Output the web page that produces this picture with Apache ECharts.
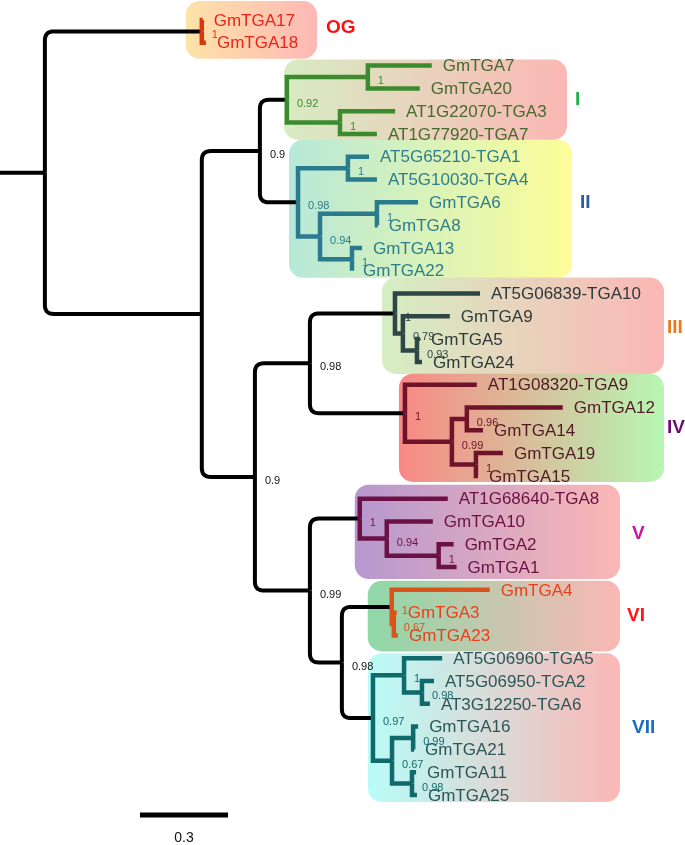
<!DOCTYPE html>
<html><head><meta charset="utf-8">
<script src="https://cdn.jsdelivr.net/npm/echarts@6/dist/echarts.min.js"></script>
<style>html,body{margin:0;padding:0;background:#fff}#c{width:685px;height:845px}</style>
</head><body><div id="c"></div><script>
// ---------- DATA ----------
// leaves, top to bottom (row index = position in this list)
const leafNames = ['GmTGA17','GmTGA18','GmTGA7','GmTGA20','AT1G22070-TGA3','AT1G77920-TGA7',
 'AT5G65210-TGA1','AT5G10030-TGA4','GmTGA6','GmTGA8','GmTGA13','GmTGA22',
 'AT5G06839-TGA10','GmTGA9','GmTGA5','GmTGA24','AT1G08320-TGA9','GmTGA12','GmTGA14','GmTGA19','GmTGA15',
 'AT1G68640-TGA8','GmTGA10','GmTGA2','GmTGA1','GmTGA4','GmTGA3','GmTGA23',
 'AT5G06960-TGA5','AT5G06950-TGA2','AT3G12250-TGA6','GmTGA16','GmTGA21','GmTGA11','GmTGA25'];

// tree edges: [node, parent, branch length]
const edges = [
 ['root', null, 0.153],
 ['OG','root',0.535], ['GmTGA17','OG',0.003], ['GmTGA18','OG',0.014],
 ['ingroup','root',0.535],
 ['I+II','ingroup',0.198],
 ['I','I+II',0.092],
 ['n7_20','I',0.276], ['GmTGA7','n7_20',0.218], ['GmTGA20','n7_20',0.177],
 ['nTGA3_7','I',0.181], ['AT1G22070-TGA3','nTGA3_7',0.188], ['AT1G77920-TGA7','nTGA3_7',0.126],
 ['II','I+II',0.130],
 ['n1_4','II',0.170], ['AT5G65210-TGA1','n1_4',0.072], ['AT5G10030-TGA4','n1_4',0.099],
 ['nIIb','II',0.075],
 ['n6_8','nIIb',0.194], ['GmTGA6','n6_8',0.140], ['GmTGA8','n6_8',0.003],
 ['n13_22','nIIb',0.109], ['GmTGA13','n13_22',0.034], ['GmTGA22','n13_22',0.0],
 ['lower','ingroup',0.181],
 ['III+IV','lower',0.1875],
 ['III','III+IV',0.290], ['AT5G06839-TGA10','III',0.290],
 ['n9_5_24','III',0.027], ['GmTGA9','n9_5_24',0.160],
 ['n5_24','n9_5_24',0.048], ['GmTGA5','n5_24',0.010], ['GmTGA24','n5_24',0.017],
 ['IV','III+IV',0.324], ['AT1G08320-TGA9','IV',0.245],
 ['n12_15','IV',0.160],
 ['n12_14','n12_15',0.051], ['GmTGA12','n12_14',0.327], ['GmTGA14','n12_14',0.055],
 ['n19_15','n12_15',0.082], ['GmTGA19','n19_15',0.092], ['GmTGA15','n19_15',0.007],
 ['V+VI+VII','lower',0.1875],
 ['V','V+VI+VII',0.170], ['AT1G68640-TGA8','V',0.300],
 ['n10_1','V',0.092], ['GmTGA10','n10_1',0.157],
 ['n2_1','n10_1',0.177], ['GmTGA2','n2_1',0.051], ['GmTGA1','n2_1',0.061],
 ['VI+VII','V+VI+VII',0.109],
 ['VI','VI+VII',0.170], ['GmTGA4','VI',0.334],
 ['n3_23','VI',0.007], ['GmTGA3','n3_23',0.010], ['GmTGA23','n3_23',0.014],
 ['VII','VI+VII',0.106],
 ['nAT','VII',0.106], ['AT5G06960-TGA5','nAT',0.130],
 ['n2_6','nAT',0.061], ['AT5G06950-TGA2','n2_6',0.041], ['AT3G12250-TGA6','n2_6',0.027],
 ['nGm','VII',0.065],
 ['n16_21','nGm',0.072], ['GmTGA16','n16_21',0.017], ['GmTGA21','n16_21',0.003],
 ['n11_25','nGm',0.068], ['GmTGA11','n11_25',0.014], ['GmTGA25','n11_25',0.017]
];

// support values: [node, value]
const support = [
 ['OG',1],['I+II',0.9],['I',0.92],['n7_20',1],['nTGA3_7',1],['II',0.98],['n1_4',1],['nIIb',0.94],['n6_8',1],['n13_22',1],
 ['III+IV',0.98],['lower',0.9],['III',1],['n9_5_24',0.79],['n5_24',0.93],['IV',1],['n12_14',0.96],['n12_15',0.99],['n19_15',1],
 ['V+VI+VII',0.99],['V',1],['n10_1',0.94],['n2_1',1],['VI+VII',0.98],['VI',1],['n3_23',0.67],
 ['VII',0.97],['nAT',1],['n2_6',0.98],['nGm',0.67],['n16_21',0.99],['n11_25',0.98]
];

// clade groups (clade root node) and tags
const cladeNames = ['OG','I','II','III','IV','V','VI','VII'];
const scaleBarValue = 0.3;

// ---------- STYLE ----------
// pad: [top px, bottom px, left offset px from clade node, right edge px]; tag: [gap px, dy px]
const cladeStyle = {
  OG: {branch:'#d8380e', text:'#e8251c', tag:'#ff0d0d', box:['#fde3a8','#fdb8b5'], pad:[19,16,-16,317], tagPos:[9,-2]},
  I:  {branch:'#3d8b2f', text:'#466b2c', tag:'#1fae4a', box:['#d7ecc3','#fbb7b5'], pad:[6,6,-3,567], tagPos:[8,0]},
  II: {branch:'#2a7b8e', text:'#2f7d8b', tag:'#2b5ca5', box:['#b7e8d8','#fdfd98'], pad:[17,7,-9,572], tagPos:[8,-6]},
  III:{branch:'#2f4646', text:'#2d3a3a', tag:'#e8791e', box:['#d5eec3','#fbb7b5'], pad:[16,12,-13,664], tagPos:[3,2]},
  IV: {branch:'#6e1329', text:'#521a27', tag:'#6a0f6e', box:['#f98884','#b6f7b3'], pad:[11,6,-6,664], tagPos:[3,0]},
  V:  {branch:'#6c1145', text:'#6b1142', tag:'#c8179f', box:['#b698cf','#fbb7b5'], pad:[14,12,-5,620], tagPos:[12,2]},
  VI: {branch:'#d9531c', text:'#ea3f1b', tag:'#ff1616', box:['#8ed8a7','#fbb7b5'], pad:[9,16,-24,620], tagPos:[7,0]},
  VII:{branch:'#10696a', text:'#2b5757', tag:'#1a6cc8', box:['#b9fcf8','#fbb7b5'], pad:[5,7,-5,620], tagPos:[12,0]}
};
const FONT = '"Liberation Sans", Arial, sans-serif';

// ---------- TREE LAYOUT (from data) ----------
const parentOf = {}, lenOf = {}, children = {};
edges.forEach(([n,p,l]) => { parentOf[n]=p; lenOf[n]=l; if(p){(children[p]=children[p]||[]).push(n);} });
const depth = {}, row = {};
function calcDepth(n){ if(depth[n]!==undefined) return depth[n]; const p=parentOf[n]; depth[n]=(p?calcDepth(p):0)+lenOf[n]; return depth[n]; }
edges.forEach(e=>calcDepth(e[0]));
leafNames.forEach((n,i)=>row[n]=i);
function calcRow(n){ if(row[n]!==undefined) return row[n]; const ch=children[n]; row[n]=ch.reduce((s,c)=>s+calcRow(c),0)/ch.length; return row[n]; }
calcRow('root');
function cladeOf(n){ while(n){ if(cladeNames.includes(n)) return n; n=parentOf[n]; } return null; }
function leavesUnder(n){ return children[n] ? children[n].flatMap(leavesUnder) : [n]; }

const edgeList = edges.filter(e=>e[1]).map(([n,p])=>({n, p, clade: cladeOf(p)}));
edgeList.sort((a,b)=> (a.clade?1:0)-(b.clade?1:0));
const edgeData = edgeList.map(e=>[depth[e.n], row[e.n], depth[e.p], row[e.p]]);
const stubData = [[depth.root, row.root, 0, row.root]];
const leafData = leafNames.map(n=>[depth[n], row[n]]);
const supportData = support.map(([n,v])=>[depth[n], row[n], v]);
const boxData = cladeNames.map(c=>{ const lv=leavesUnder(c); return [depth[c], row[lv[0]], row[lv[lv.length-1]]]; });

function elbow(p, c, rounded){
  const [px,py]=p, [cx,cy]=c;
  if (Math.abs(cy-py)<0.5) return [[px,cy],[cx,cy]];
  if (!rounded) return [[px,py],[px,cy],[cx,cy]];
  const s = cy>py?1:-1;
  const r = Math.max(0, Math.min(9, Math.abs(cy-py)/2, cx-px));
  const pts=[[px,py],[px,cy-s*r]];
  for(let k=1;k<=8;k++){ const t=k/8; const x0=px, y0=cy-s*r, x1=px, y1=cy, x2=px+r, y2=cy;
    pts.push([(1-t)*(1-t)*x0+2*(1-t)*t*x1+t*t*x2, (1-t)*(1-t)*y0+2*(1-t)*t*y1+t*t*y2]); }
  pts.push([cx,cy]);
  return pts;
}

const chart = echarts.init(document.getElementById('c'), null, {renderer:'canvas'});
const option = {
  animation:false,
  grid:{left:0,right:0,top:20,bottom:845-20-36*22.794},
  xAxis:{type:'value',min:0,max:685/293.33,show:false},
  yAxis:{type:'value',min:0,max:36,inverse:true,show:false},
  series:[
    { // clade boxes + tags
      type:'custom', z:1, data:boxData, clip:false,
      renderItem:(params, api)=>{
        const c=cladeNames[params.dataIndex], st=cladeStyle[c];
        const node=api.coord([api.value(0), api.value(1)]);
        const top=api.coord([0,api.value(1)])[1]-st.pad[0];
        const bot=api.coord([0,api.value(2)])[1]+st.pad[1];
        const left=node[0]+st.pad[2], right=st.pad[3];
        return {type:'group', children:[
          {type:'rect', shape:{x:left,y:top,width:right-left,height:bot-top,r:14},
           style:{fill:new echarts.graphic.LinearGradient(0,0,1,0,[{offset:0,color:st.box[0]},{offset:1,color:st.box[1]}])}},
          {type:'text', style:{text:c, x:right+st.tagPos[0], y:(top+bot)/2+st.tagPos[1], fill:st.tag, font:'bold 19px '+FONT, textAlign:'left', verticalAlign:'middle'}}
        ]};
      }
    },
    { // root stub
      type:'custom', z:2, data:stubData, clip:false,
      renderItem:(params, api)=>{
        const c=api.coord([api.value(0),api.value(1)]), p=api.coord([api.value(2),api.value(3)]);
        return {type:'polyline', shape:{points:[p,c]}, style:{stroke:'#000',lineWidth:4,fill:null}};
      }
    },
    { // branches
      type:'custom', z:3, data:edgeData, clip:false,
      renderItem:(params, api)=>{
        const e=edgeList[params.dataIndex];
        const c=api.coord([api.value(0),api.value(1)]), p=api.coord([api.value(2),api.value(3)]);
        const col=e.clade?cladeStyle[e.clade].branch:'#000';
        return {type:'polyline', shape:{points:elbow(p,c,!e.clade)},
          style:{stroke:col,lineWidth:e.clade?4.5:4,fill:null,lineJoin:e.clade?'miter':'round',lineCap:'butt'}};
      }
    },
    { // leaf labels
      type:'custom', z:4, data:leafData, clip:false,
      renderItem:(params, api)=>{
        const n=leafNames[params.dataIndex], cl=cladeOf(n);
        const c=api.coord([api.value(0),api.value(1)]);
        return {type:'text', style:{text:n, x:c[0]+11, y:c[1]+1, fill:cladeStyle[cl].text, font:'17px '+FONT, textAlign:'left', verticalAlign:'middle'}};
      }
    },
    { // support values
      type:'custom', z:5, data:supportData, clip:false,
      renderItem:(params, api)=>{
        const n=support[params.dataIndex][0], cl=cladeOf(n);
        const c=api.coord([api.value(0),api.value(1)]);
        return {type:'text', style:{text:String(api.value(2)), x:c[0]+10, y:c[1]+4, fill:cl?cladeStyle[cl].branch:'#111', font:'11px '+FONT, textAlign:'left', verticalAlign:'middle'}};
      }
    },
    { // scale bar
      type:'custom', z:5, data:[[scaleBarValue]], clip:false,
      renderItem:(params, api)=>{
        const w=api.coord([api.value(0),0])[0]-api.coord([0,0])[0];
        const x0=140, y=815;
        return {type:'group', children:[
          {type:'line', shape:{x1:x0,y1:y,x2:x0+w,y2:y}, style:{stroke:'#000',lineWidth:5}},
          {type:'text', style:{text:String(api.value(0)), x:x0+w/2, y:y+23, fill:'#111', font:'14px '+FONT, textAlign:'center', verticalAlign:'middle'}}
        ]};
      }
    }
  ]
};
chart.setOption(option);
</script></body></html>
